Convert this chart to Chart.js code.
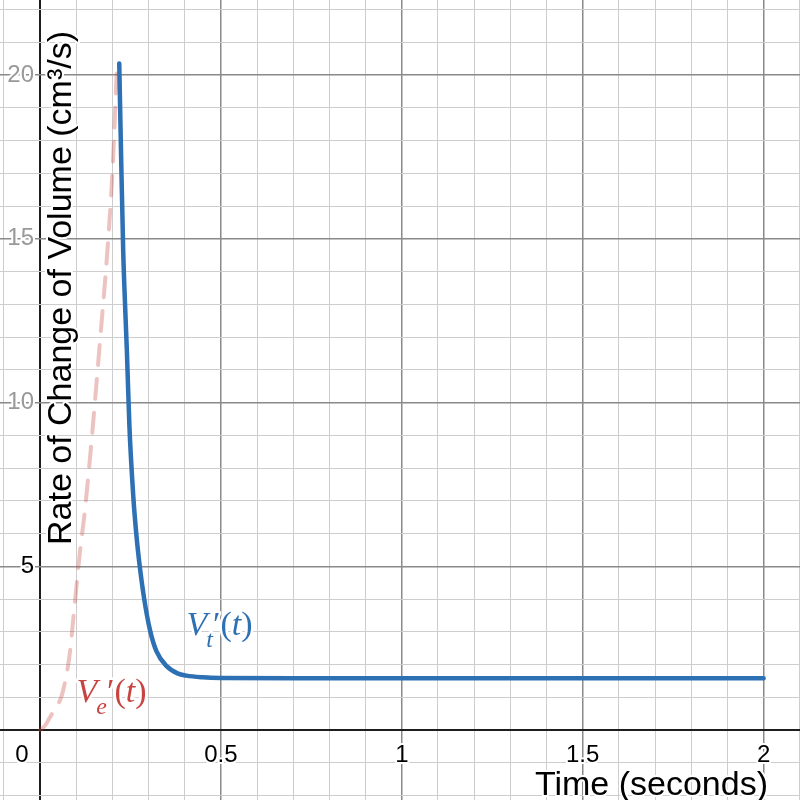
<!DOCTYPE html>
<html>
<head>
<meta charset="utf-8">
<script src="https://cdn.jsdelivr.net/npm/chart.js@4.4.1/dist/chart.umd.min.js"></script>
<style>
  html, body { margin: 0; padding: 0; background: #fff; }
  #wrap { width: 800px; height: 800px; }
</style>
</head>
<body>
<div id="wrap"><canvas id="myChart" width="800" height="800"></canvas></div>
<script>
// V_t'(t) (seconds, cm^3/s)
const tankTimes = [0.219, 0.224, 0.230, 0.235, 0.240, 0.247, 0.258, 0.266, 0.274, 0.288, 0.304, 0.322, 0.350, 0.380, 0.405, 0.450, 0.500, 0.700, 1.000, 1.500, 2.000];
const tankRates = [20.35, 17.6, 14.6, 13.0, 11.6, 9.3, 7.1, 6.0, 5.15, 4.0, 3.05, 2.4, 1.95, 1.73, 1.66, 1.61, 1.59, 1.58, 1.58, 1.58, 1.58];

// V_e'(t)
const entryTimes = [0, 0.015, 0.028, 0.045, 0.060, 0.075, 0.083, 0.092, 0.101, 0.110, 0.124, 0.143, 0.166, 0.186, 0.200, 0.212];
const entryRates = [0, 0.15, 0.40, 0.70, 1.05, 1.80, 2.40, 3.40, 4.40, 5.40, 6.70, 8.90, 11.9, 14.6, 17.0, 20.1];

// tick labels drawn next to the axes
const xTicks = [0, 0.5, 1, 1.5, 2];
const xTickLabels = ['0', '0.5', '1', '1.5', '2'];
const yTicks = [5, 10, 15, 20];
const yTickLabels = ['5', '10', '15', '20'];

const BLUE = '#2d70b3';
const RED = '#c74440';

function isMultiple(v, step) {
  const r = v / step;
  return Math.abs(r - Math.round(r)) < 1e-6;
}

// grid: axis line, major every `major`, minor otherwise
function gridColor(major) {
  return c => {
    const v = c.tick.value;
    if (Math.abs(v) < 1e-9) return '#1e1e1e';
    return isMultiple(v, major) ? '#8a8a8a' : '#cdcdcd';
  };
}
function gridWidth(major) {
  return c => {
    const v = c.tick.value;
    if (Math.abs(v) < 1e-9) return 2;
    return isMultiple(v, major) ? 1.5 : 1;
  };
}

function haloText(ctx, text, x, y, color, halo) {
  ctx.lineJoin = 'round';
  ctx.lineWidth = halo;
  ctx.strokeStyle = '#fff';
  ctx.strokeText(text, x, y);
  ctx.fillStyle = color;
  ctx.fillText(text, x, y);
}

// V_sub'(t) drawn piece by piece, halo first so it never covers a neighbour
function mathLabel(ctx, x, y, sub, color) {
  const serif = '"Liberation Serif", "DejaVu Serif", serif';
  const parts = [
    { s: 'V', f: `italic 34px ${serif}`, dy: 0 },
    { s: sub, f: `italic 24px ${serif}`, dy: 12 },
    { s: '\u2032', f: `34px ${serif}`, dy: 0 },
    { s: '(', f: `34px ${serif}`, dy: 0 },
    { s: 't', f: `italic 34px ${serif}`, dy: 0 },
    { s: ')', f: `34px ${serif}`, dy: 0 }
  ];
  let cx = x;
  const placed = parts.map(p => {
    ctx.font = p.f;
    const item = { ...p, x: cx };
    cx += ctx.measureText(p.s).width + (p.s === 'V' ? -1 : 0);
    return item;
  });
  ctx.textAlign = 'left';
  ctx.textBaseline = 'alphabetic';
  ctx.lineJoin = 'round';
  ctx.lineWidth = 5;
  ctx.strokeStyle = '#fff';
  placed.forEach(p => { ctx.font = p.f; ctx.strokeText(p.s, p.x, y + p.dy); });
  ctx.fillStyle = color;
  placed.forEach(p => { ctx.font = p.f; ctx.fillText(p.s, p.x, y + p.dy); });
}

const overlay = {
  id: 'overlay',
  afterDatasetsDraw(chart) {
    const { ctx, scales: { x, y } } = chart;
    ctx.save();

    // x tick labels
    ctx.font = '24px "Liberation Sans", Arial, sans-serif';
    ctx.textBaseline = 'alphabetic';
    xTicks.forEach((v, i) => {
      const px = x.getPixelForValue(v);
      ctx.textAlign = 'center';
      const lx = v === 0 ? px - 18 : px;
      haloText(ctx, xTickLabels[i], lx, y.getPixelForValue(0) + 32, '#000', 4);
    });

    // y tick labels (upper ones sit faded under the title)
    ctx.textAlign = 'right';
    ctx.textBaseline = 'middle';
    yTicks.forEach((v, i) => {
      const col = v > 5 ? '#999' : '#000';
      haloText(ctx, yTickLabels[i], x.getPixelForValue(0) - 6, y.getPixelForValue(v), col, 4);
    });

    // axis titles
    ctx.font = '34px "Liberation Sans", Arial, sans-serif';
    ctx.textBaseline = 'alphabetic';
    ctx.save();
    ctx.translate(71, 545);
    ctx.rotate(-Math.PI / 2);
    ctx.textAlign = 'left';
    haloText(ctx, 'Rate of Change of Volume (cm\u00b3/s)', 0, 0, '#000', 4);
    ctx.restore();
    ctx.textAlign = 'right';
    haloText(ctx, 'Time (seconds)', 768, 795, '#000', 4);

    // curve labels, anchored in data space
    mathLabel(ctx, x.getPixelForValue(0.405), y.getPixelForValue(2.9), 't', BLUE);
    mathLabel(ctx, x.getPixelForValue(0.101), y.getPixelForValue(0.86), 'e', RED);

    ctx.restore();
  }
};

const ctx = document.getElementById('myChart').getContext('2d');

const rateChart = new Chart(ctx, {
  type: 'scatter',
  data: {
    datasets: [
      {
        label: "V_t'(t)",
        data: tankTimes.map((t, i) => ({ x: t, y: tankRates[i] })),
        showLine: true,
        borderColor: BLUE,
        borderWidth: 4.5,
        borderCapStyle: 'round',
        borderJoinStyle: 'round',
        pointRadius: 0,
        cubicInterpolationMode: 'monotone'
      },
      {
        label: "V_e'(t)",
        data: entryTimes.map((t, i) => ({ x: t, y: entryRates[i] })),
        showLine: true,
        borderColor: 'rgba(199, 68, 64, 0.32)',
        borderWidth: 4,
        borderDash: [20, 14],
        borderCapStyle: 'round',
        pointRadius: 0,
        cubicInterpolationMode: 'monotone'
      }
    ]
  },
  options: {
    responsive: false,
    animation: false,
    layout: { padding: 0 },
    plugins: { legend: { display: false }, tooltip: { enabled: false } },
    scales: {
      x: {
        type: 'linear',
        min: -0.1106,
        max: 2.1006,
        border: { display: false },
        ticks: { display: false, stepSize: 0.1, includeBounds: false },
        grid: { color: gridColor(0.5), lineWidth: gridWidth(0.5), drawTicks: false }
      },
      y: {
        type: 'linear',
        min: -2.137,
        max: 22.29,
        border: { display: false },
        ticks: { display: false, stepSize: 1, includeBounds: false },
        grid: { color: gridColor(5), lineWidth: gridWidth(5), drawTicks: false }
      }
    }
  },
  plugins: [overlay]
});
</script>
</body>
</html>
